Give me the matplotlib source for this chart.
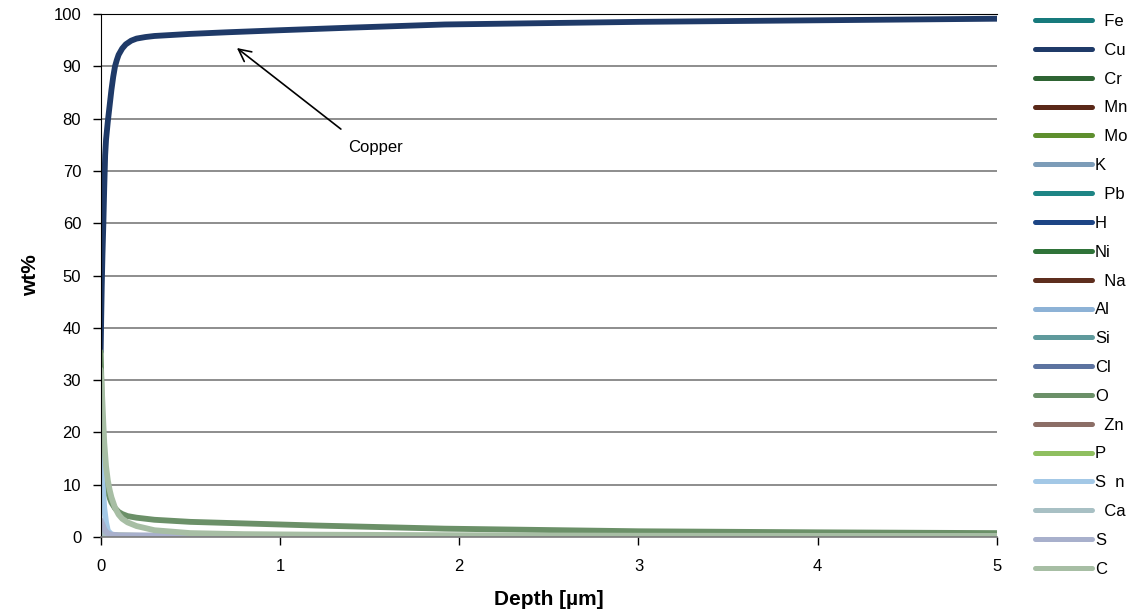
import matplotlib
matplotlib.use("Agg")
import matplotlib.pyplot as plt

plt.rcParams['font.family'] = ['Liberation Sans', 'DejaVu Sans']

# depth grids [µm]
depth_cu = [0.0, 0.003, 0.006, 0.01, 0.015, 0.02, 0.025, 0.03, 0.04, 0.05, 0.06, 0.07, 0.08,
            0.09, 0.1, 0.12, 0.14, 0.17, 0.2, 0.25, 0.3, 0.4, 0.5, 0.7, 1.0, 1.4, 1.92, 3.0, 4.0, 5.0]
depth_oc = [0.0, 0.003, 0.006, 0.01, 0.015, 0.02, 0.03, 0.04, 0.05, 0.06, 0.08, 0.1, 0.12,
            0.15, 0.2, 0.3, 0.5, 0.8, 1.2, 1.92, 3.0, 4.0, 5.0]
depth_fast = [0.0, 0.01, 0.02, 0.03, 0.04, 0.06, 0.1, 0.3, 1.0, 1.92, 5.0]
depth_minor = [0.0, 0.02, 0.05, 0.1, 0.3, 1.0, 1.92, 5.0]

# wt% profiles
cu = [35.4, 42.0, 48.0, 54.0, 60.0, 67.0, 73.0, 76.0, 79.5, 82.5, 85.5, 88.0, 90.0,
      91.2, 92.2, 93.4, 94.2, 94.9, 95.3, 95.6, 95.8, 96.0, 96.2, 96.5, 96.9, 97.4, 98.0, 98.5, 98.8, 99.1]
o = [35.4, 31.0, 26.0, 21.0, 16.5, 13.5, 10.5, 8.7, 7.5, 6.6, 5.5, 4.8, 4.4,
     4.0, 3.7, 3.3, 2.9, 2.6, 2.2, 1.6, 1.1, 0.9, 0.75]
c = [32.0, 30.5, 28.5, 25.5, 21.5, 18.0, 13.5, 10.8, 9.0, 7.6, 5.6, 4.3, 3.5,
     2.8, 2.1, 1.3, 0.75, 0.55, 0.45, 0.35, 0.25, 0.22, 0.2]
sn = [16.0, 10.5, 5.5, 2.8, 1.2, 0.5, 0.2, 0.1, 0.05, 0.05, 0.05]
s = [3.2, 2.4, 1.5, 1.0, 0.7, 0.45, 0.35, 0.3, 0.2, 0.18, 0.15]

fe = [0.6, 0.4, 0.2, 0.1, 0.05, 0.03, 0.02, 0.02]
cr = [0.3, 0.2, 0.1, 0.05, 0.03, 0.02, 0.01, 0.01]
mn = [0.2, 0.1, 0.05, 0.03, 0.02, 0.01, 0.01, 0.01]
mo = [0.2, 0.1, 0.05, 0.03, 0.02, 0.01, 0.01, 0.01]
k = [0.5, 0.3, 0.1, 0.05, 0.02, 0.01, 0.01, 0.01]
pb = [0.3, 0.2, 0.1, 0.05, 0.02, 0.01, 0.01, 0.01]
h = [0.4, 0.3, 0.2, 0.1, 0.05, 0.03, 0.02, 0.02]
ni = [0.3, 0.2, 0.1, 0.05, 0.03, 0.02, 0.01, 0.01]
na = [0.8, 0.5, 0.2, 0.1, 0.05, 0.02, 0.01, 0.01]
al = [1.0, 0.6, 0.3, 0.15, 0.05, 0.03, 0.02, 0.02]
si = [1.2, 0.7, 0.3, 0.15, 0.08, 0.04, 0.03, 0.03]
cl = [0.9, 0.5, 0.2, 0.1, 0.05, 0.02, 0.01, 0.01]
zn = [0.4, 0.3, 0.15, 0.08, 0.04, 0.02, 0.02, 0.02]
p = [0.6, 0.5, 0.4, 0.3, 0.15, 0.08, 0.05, 0.05]
ca = [0.7, 0.4, 0.2, 0.1, 0.05, 0.02, 0.01, 0.01]

labels = ["  Fe", "  Cu", "  Cr", "  Mn", "  Mo", "K", "  Pb", "H", "Ni", "  Na",
          "Al", "Si", "Cl", "O", "  Zn", "P", "S  n", "  Ca", "S", "C"]
colors = ["#177A7C", "#1F3A68", "#2E6433", "#5A2818", "#5E8F2E", "#7C9CB8", "#1E8585",
          "#1D4585", "#2F7339", "#5E2E1E", "#8DB2D6", "#5F9A9C", "#5C73A0", "#6B9068",
          "#8C6E66", "#8FBF60", "#A3C8E6", "#A8C0C4", "#A8B0CC", "#A7BEA4"]
series = [(depth_minor, fe), (depth_cu, cu), (depth_minor, cr), (depth_minor, mn),
          (depth_minor, mo), (depth_minor, k), (depth_minor, pb), (depth_minor, h),
          (depth_minor, ni), (depth_minor, na), (depth_minor, al), (depth_minor, si),
          (depth_minor, cl), (depth_oc, o), (depth_minor, zn), (depth_minor, p),
          (depth_fast, sn), (depth_minor, ca), (depth_fast, s), (depth_oc, c)]

fig = plt.figure(figsize=(11.35, 6.12), dpi=100)
ax = fig.add_axes([0.0887, 0.1225, 0.7897, 0.8546])

for (xs, ys), lab, col in zip(series, labels, colors):
    ax.plot(xs, ys, color=col, lw=4.2, label=lab, solid_capstyle='round', solid_joinstyle='round')

ax.set_xlim(0, 5)
ax.set_ylim(0, 100)
ax.set_yticks(range(0, 101, 10))
ax.set_xticks(range(0, 6))
ax.yaxis.grid(True, color='#7a7a7a', lw=1.2)
ax.set_axisbelow(True)
ax.spines['right'].set_visible(False)
ax.spines['top'].set_color('black')
ax.spines['bottom'].set_color('#7a7a7a')
ax.spines['bottom'].set_linewidth(1.2)
ax.spines['left'].set_color('black')
ax.tick_params(axis='both', direction='out', length=6, width=1, labelsize=12, colors='black')
ax.tick_params(axis='y', pad=8)
ax.tick_params(axis='x', pad=10)

ax.set_xlabel("Depth [µm]", fontsize=15, fontweight='bold', labelpad=11)
ax.set_ylabel("wt%", fontsize=15, fontweight='bold', labelpad=10)

ax.annotate("", xy=(0.76, 93.5), xytext=(1.34, 78.0),
            arrowprops=dict(arrowstyle='->', color='black', lw=1.2, mutation_scale=22,
                            shrinkA=0, shrinkB=0))
ax.text(1.38, 74.4, "Copper", fontsize=12, ha='left', va='center')

leg = fig.legend(loc='upper left', bbox_to_anchor=(1035 / 1135, 1 - 14 / 612), frameon=False,
                 fontsize=12, handlelength=3.4, handletextpad=0.2, labelspacing=0.83,
                 borderpad=0, borderaxespad=0)
for line in leg.get_lines():
    line.set_linewidth(3.6)

fig.savefig("out.png", dpi=100)
